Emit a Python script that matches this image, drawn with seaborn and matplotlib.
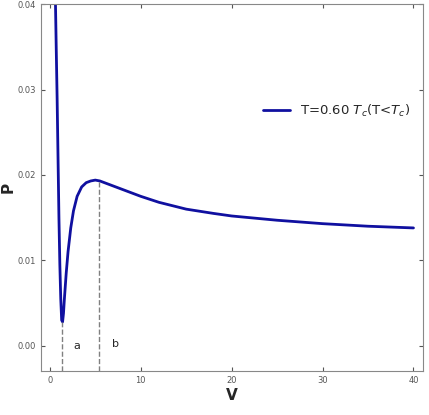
import matplotlib
matplotlib.use("Agg")
import matplotlib.pyplot as plt
import seaborn as sns
import pandas as pd

V = [0.62,0.7,0.8,0.9,1.0,1.1,1.2,1.3,1.4,1.5,1.6,1.8,2.0,2.3,2.6,3.0,3.5,4.0,4.5,5.0,5.5,6.0,7.0,8.0,9.0,10,12,15,18,20,25,30,35,40]
P = [0.040,0.035,0.029,0.022,0.015,0.0095,0.0055,0.0030,0.0028,0.0038,0.0055,0.0085,0.0110,0.0138,0.0158,0.0175,0.0186,0.0191,0.0193,0.0194,0.0193,0.0191,0.0187,0.0183,0.0179,0.0175,0.0168,0.0160,0.0155,0.0152,0.0147,0.0143,0.0140,0.0138]
a_V, a_P = 1.35, 0.0028
b_V, b_P = 5.4, 0.0194
yticks = [0.00, 0.01, 0.02, 0.03, 0.04]
xticks = [0, 10, 20, 30, 40]

sns.set_style("white")
fig, ax = plt.subplots(figsize=(4.29, 4.15), dpi=100)
df = pd.DataFrame({"V": V, "P": P})
sns.lineplot(data=df, x="V", y="P", ax=ax, color="#1010a0", lw=2, sort=False,
             label=r"T=0.60 $T_c$(T<$T_c$)")
ymin = -0.003
ax.plot([a_V, a_V], [ymin, a_P], ls="--", color="gray", lw=1)
ax.plot([b_V, b_V], [ymin, b_P], ls="--", color="gray", lw=1)
ax.text(2.6, 0.0, "a", fontsize=8, va="center")
ax.text(6.8, 0.0002, "b", fontsize=8, va="center")
ax.set_xlim(-1, 41)
ax.set_ylim(ymin, 0.04)
ax.set_xticks(xticks)
ax.set_yticks(yticks)
ax.set_yticklabels([f"{t:.2f}" for t in yticks])
ax.tick_params(labelsize=6, colors="#555555", length=3, direction="in")
ax.tick_params(axis="both", which="both", bottom=True, left=True, top=True, right=True)
for s in ax.spines.values():
    s.set_color("#888888"); s.set_linewidth(0.8)
ax.set_xlabel("V", fontsize=11, fontweight="bold", labelpad=2)
ax.set_ylabel("P", fontsize=11, fontweight="bold", labelpad=1)
ax.legend(loc="center right", bbox_to_anchor=(1.0, 0.71), frameon=False, fontsize=9.5, handlelength=2)
fig.subplots_adjust(left=0.095, right=0.985, bottom=0.105, top=0.99)
fig.savefig("out.png", dpi=100)
